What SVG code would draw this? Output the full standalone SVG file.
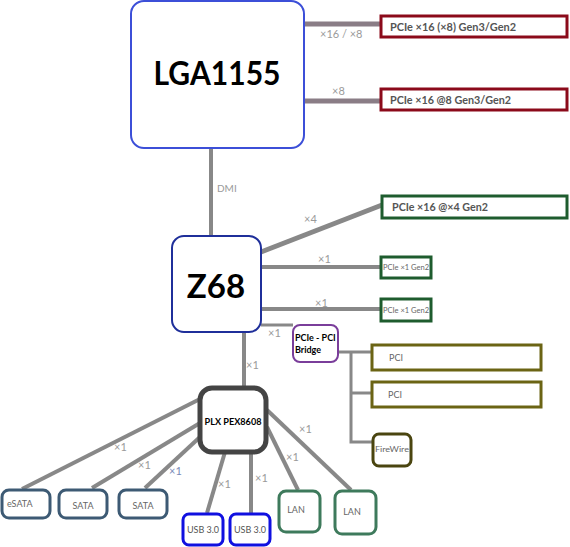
<svg xmlns="http://www.w3.org/2000/svg" width="570" height="547" viewBox="0 0 570 547">
<style>
text{font-family:Lato,"Open Sans","Liberation Sans",sans-serif}
.lbl{font-size:11px;fill:#9a9a9a}
.bt{font-size:11px;fill:#555;font-weight:bold}
.st{font-size:7px;fill:#666}
.ln{stroke:#888;stroke-width:4;fill:none}
.lt{stroke:#8a7d86;stroke-width:5;fill:none}
.red{fill:#fff;stroke:#8b0a1a;stroke-width:3}
.grn{fill:#fff;stroke:#1e5c2e;stroke-width:3}
.olv{fill:#fff;stroke:#6b6414;stroke-width:3}
.sata{fill:#fff;stroke:#3d5a74;stroke-width:3}
.usb{fill:#fff;stroke:#1010e0;stroke-width:3}
.lan{fill:#fff;stroke:#3e7a5c;stroke-width:3}
</style>
<g id="connectors">
<line class="lt" x1="304" y1="24" x2="381" y2="24"/>
<line class="lt" x1="304" y1="101" x2="381" y2="101"/>
<line class="ln" x1="211" y1="148" x2="211" y2="236"/>
<line class="ln" x1="261" y1="252" x2="382" y2="205" style="stroke-width:5"/>
<line class="ln" x1="261" y1="267" x2="381" y2="267"/>
<line class="ln" x1="261" y1="309" x2="381" y2="309"/>
<polyline class="ln" points="261,325 293,325" style="stroke-width:3"/>
<line class="ln" x1="244" y1="332" x2="244" y2="388"/>
<polyline class="ln" points="338,352 372,352" style="stroke-width:3"/>
<polyline class="ln" points="351,352 351,442 373,442" style="stroke-width:3"/>
<line class="ln" x1="351" y1="393" x2="372" y2="393" style="stroke-width:3"/>
<line class="ln" x1="200" y1="399" x2="22" y2="489"/>
<line class="ln" x1="200" y1="423" x2="92" y2="488"/>
<line class="ln" x1="200" y1="437" x2="145" y2="488"/>
<line class="ln" x1="225" y1="452" x2="207" y2="513"/>
<line class="ln" x1="251" y1="452" x2="251" y2="513"/>
<line class="ln" x1="267" y1="427" x2="298" y2="490"/>
<line class="ln" x1="267" y1="410" x2="351" y2="490"/>
<text class="lbl" x="320" y="38">×16 / ×8</text>
<text class="lbl" x="332" y="95">×8</text>
<text class="lbl" x="217" y="192" style="font-size:10px">DMI</text>
<text class="lbl" x="304" y="223">×4</text>
<text class="lbl" x="318" y="263">×1</text>
<text class="lbl" x="315" y="307">×1</text>
<text class="lbl" x="268" y="337">×1</text>
<text class="lbl" x="246" y="369">×1</text>
<text class="lbl" x="114" y="451">×1</text>
<text class="lbl" x="138" y="469">×1</text>
<text class="lbl" x="169" y="475" style="fill:#7a8ab8">×1</text>
<text class="lbl" x="218" y="488">×1</text>
<text class="lbl" x="255" y="482">×1</text>
<text class="lbl" x="286" y="461">×1</text>
<text class="lbl" x="299" y="433">×1</text>
</g>
<g id="lga1155">
<rect x="131" y="1" width="173" height="147" rx="13" fill="#fff" stroke="#3c4fd8" stroke-width="2"/>
<text x="217" y="85" text-anchor="middle" font-size="33" font-weight="bold" fill="#000" textLength="127" lengthAdjust="spacingAndGlyphs">LGA1155</text>
</g>
<g id="pcie1">
<rect class="red" x="381" y="16" width="186" height="21"/>
<text class="bt" x="390" y="31" textLength="126" lengthAdjust="spacingAndGlyphs">PCIe ×16 (×8) Gen3/Gen2</text>
</g>
<g id="pcie2">
<rect class="red" x="381" y="89" width="186" height="21"/>
<text class="bt" x="390" y="104" textLength="121" lengthAdjust="spacingAndGlyphs">PCIe ×16 @8 Gen3/Gen2</text>
</g>
<g id="z68">
<rect x="172" y="236" width="89" height="96" rx="12" fill="#fff" stroke="#1f2f9a" stroke-width="2"/>
<text x="216" y="298" text-anchor="middle" font-size="33" font-weight="bold" fill="#000">Z68</text>
</g>
<g id="pcie3">
<rect class="grn" x="382" y="196" width="185" height="22"/>
<text class="bt" x="392" y="211" textLength="96" lengthAdjust="spacingAndGlyphs">PCIe ×16 @×4 Gen2</text>
</g>
<g id="pcie4">
<rect class="grn" x="381" y="257" width="50" height="21"/>
<text class="st" x="383" y="270" textLength="46" lengthAdjust="spacingAndGlyphs">PCIe ×1 Gen2</text>
</g>
<g id="pcie5">
<rect class="grn" x="381" y="299" width="50" height="22"/>
<text class="st" x="383" y="313" textLength="46" lengthAdjust="spacingAndGlyphs">PCIe ×1 Gen2</text>
</g>
<g id="bridge">
<rect x="293" y="325" width="45" height="37" rx="7" fill="#fff" stroke="#7a3d9a" stroke-width="2"/>
<text x="295" y="341" font-size="9" font-weight="bold" fill="#000">PCIe - PCI</text>
<text x="295" y="353" font-size="9" font-weight="bold" fill="#000">Bridge</text>
</g>
<g id="pci1">
<rect class="olv" x="372" y="345" width="169" height="25"/>
<text x="389" y="361" font-size="9" fill="#666">PCI</text>
</g>
<g id="pci2">
<rect class="olv" x="372" y="382" width="169" height="25"/>
<text x="388" y="398" font-size="9" fill="#666">PCI</text>
</g>
<g id="firewire">
<rect x="373" y="434" width="38" height="32" rx="6" fill="#fff" stroke="#4a4510" stroke-width="3"/>
<text x="375" y="452" font-size="8" fill="#666" textLength="34" lengthAdjust="spacingAndGlyphs">FireWire</text>
</g>
<g id="plx">
<rect x="200" y="388" width="66" height="64" rx="12" fill="#fff" stroke="#444" stroke-width="5"/>
<text x="233" y="425" text-anchor="middle" font-size="10" font-weight="bold" fill="#000" textLength="57" lengthAdjust="spacingAndGlyphs">PLX PEX8608</text>
</g>
<g id="esata">
<rect class="sata" x="2" y="490" width="48" height="28" rx="7"/>
<text x="7" y="507" font-size="9" fill="#666">eSATA</text>
</g>
<g id="sata1">
<rect class="sata" x="59" y="490" width="48" height="28" rx="7"/>
<text x="83" y="509" text-anchor="middle" font-size="9" fill="#666">SATA</text>
</g>
<g id="sata2">
<rect class="sata" x="119" y="490" width="48" height="28" rx="7"/>
<text x="143" y="509" text-anchor="middle" font-size="9" fill="#666">SATA</text>
</g>
<g id="usb1">
<rect class="usb" x="183" y="514" width="40" height="31" rx="6"/>
<text x="203" y="533" text-anchor="middle" font-size="9" fill="#555">USB 3.0</text>
</g>
<g id="usb2">
<rect class="usb" x="230" y="514" width="40" height="31" rx="6"/>
<text x="250" y="533" text-anchor="middle" font-size="9" fill="#555">USB 3.0</text>
</g>
<g id="lan1">
<rect class="lan" x="279" y="491" width="41" height="41" rx="7"/>
<text x="296" y="513" text-anchor="middle" font-size="9" fill="#666">LAN</text>
</g>
<g id="lan2">
<rect class="lan" x="335" y="491" width="41" height="43" rx="7"/>
<text x="352" y="515" text-anchor="middle" font-size="9" fill="#666">LAN</text>
</g>
</svg>
